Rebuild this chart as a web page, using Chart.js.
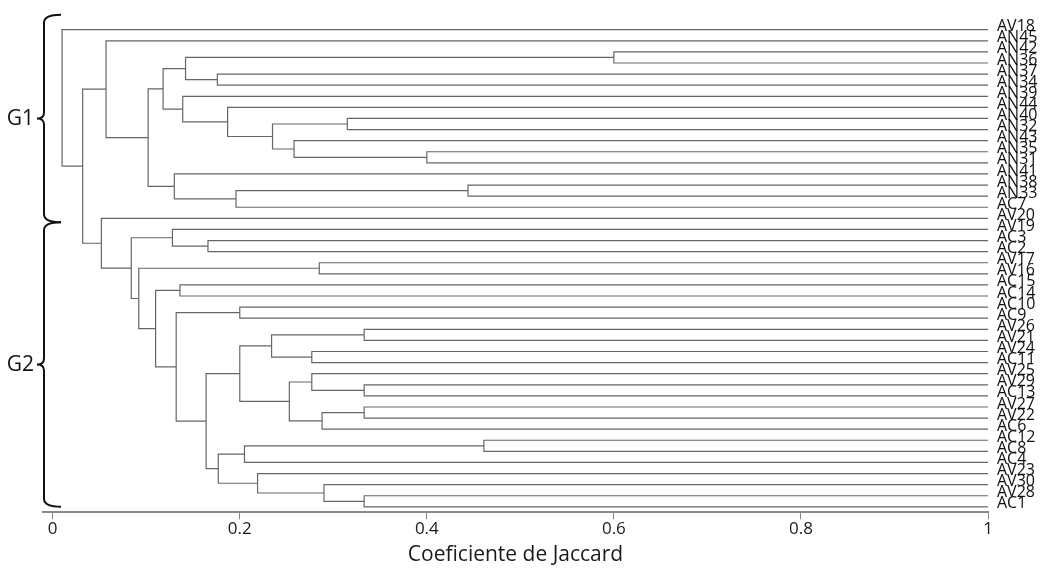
<!DOCTYPE html>
<html>
<head>
<meta charset="utf-8">
<script src="https://cdn.jsdelivr.net/npm/chart.js@4.4.1/dist/chart.umd.min.js"></script>
<style>
html, body { margin: 0; padding: 0; background: #fff; }
#wrap { width: 1043px; height: 569px; position: relative; }
</style>
</head>
<body>
<div id="wrap"><canvas id="dendro"></canvas></div>
<script>
// Feuilles du dendrogramme, de haut en bas
const leaves = ['AV18', 'AN45', 'AN42', 'AN36', 'AN37', 'AN34', 'AN39', 'AN44', 'AN40', 'AN32',
    'AN43', 'AN35', 'AN31', 'AN41', 'AN38', 'AN33', 'AC7', 'AV20', 'AV19', 'AC3',
    'AC2', 'AV17', 'AV16', 'AC15', 'AC14', 'AC10', 'AC9', 'AV26', 'AV21', 'AV24',
    'AC11', 'AV25', 'AV29', 'AC13', 'AV27', 'AV22', 'AC6', 'AC12', 'AC8', 'AC4',
    'AV23', 'AV30', 'AV28', 'AC1'];

// Fusions : enfant A (haut), enfant B (bas) -> nom de feuille ou numéro d'une fusion précédente
const mergeA = ['AN42', 'AN37', 0, 'AN40', 'AN35', 'AN43', 3, 'AN44', 'AN39', 2,
    'AN38', 10, 'AN41', 9, 'AN45',
    'AC3', 'AV19', 'AV17', 'AC15', 'AC10', 'AV26', 'AV24', 20, 'AV29', 'AV25',
    'AV27', 25, 24, 22, 'AC12', 29, 'AV28', 'AV30', 'AV23', 30,
    28, 19, 18, 17, 16, 'AV20', 14, 'AV18'];
const mergeB = ['AN36', 'AN34', 1, 'AN32', 'AN31', 4, 5, 6, 7, 8,
    'AN33', 'AC7', 11, 12, 13,
    'AC2', 15, 'AV16', 'AC14', 'AC9', 'AV21', 'AC11', 21, 'AC13', 23,
    'AV22', 'AC6', 26, 27, 'AC8', 'AC4', 'AC1', 31, 32, 33,
    34, 35, 36, 37, 38, 39, 40, 41];
// Coefficient de Jaccard de chaque fusion
const mergeLevel = [0.600, 0.176, 0.142, 0.315, 0.400, 0.258, 0.235, 0.187, 0.139, 0.118,
    0.444, 0.196, 0.130, 0.102, 0.057,
    0.166, 0.128, 0.285, 0.136, 0.200, 0.333, 0.277, 0.234, 0.333, 0.277,
    0.333, 0.288, 0.253, 0.200, 0.461, 0.205, 0.333, 0.290, 0.219, 0.177,
    0.164, 0.132, 0.110, 0.092, 0.084, 0.052, 0.032, 0.010];

const xTicks = [0, 0.2, 0.4, 0.6, 0.8, 1];
const xTickLabels = ['0', '0.2', '0.4', '0.6', '0.8', '1'];

// Groupes (accolades à gauche)
const groupNames = ['G1', 'G2'];
const groupFirst = ['AV18', 'AV20'];
const groupLast = ['AC7', 'AC1'];

// Construire les segments du dendrogramme (x = coefficient, y = rang de la feuille)
const nodePos = [];
const segments = [];
function childPos(c) {
    if (typeof c === 'string') return { x: 1, y: leaves.indexOf(c) };
    return nodePos[c];
}
for (let i = 0; i < mergeLevel.length; i++) {
    const a = childPos(mergeA[i]);
    const b = childPos(mergeB[i]);
    const h = mergeLevel[i];
    segments.push({ x: a.x, y: a.y }, { x: h, y: a.y }, { x: h, y: b.y }, { x: b.x, y: b.y });
    segments.push({ x: h, y: null }); // coupure
    nodePos.push({ x: h, y: (a.y + b.y) / 2 });
}

// Accolades G1 / G2
const bracesPlugin = {
    id: 'braces',
    afterDraw(chart) {
        const ctx = chart.ctx;
        const yS = chart.scales.y;
        const x = chart.chartArea.left + 1;
        ctx.save();
        ctx.strokeStyle = '#111';
        ctx.lineWidth = 2;
        ctx.fillStyle = '#111';
        ctx.font = '21px "Open Sans"';
        ctx.textAlign = 'right';
        ctx.textBaseline = 'middle';
        groupNames.forEach((name, g) => {
            const i0 = leaves.indexOf(groupFirst[g]);
            const i1 = leaves.indexOf(groupLast[g]);
            const top = g === 0 ? yS.getPixelForValue(i0) - 15 : yS.getPixelForValue(i0) + 4;
            const bottom = g === groupNames.length - 1 ? yS.getPixelForValue(i1) : yS.getPixelForValue(i1 + 1) + 4;
            const mid = (top + bottom) / 2;
            ctx.beginPath();
            ctx.moveTo(x + 17, top);
            ctx.quadraticCurveTo(x, top, x, top + 8);
            ctx.lineTo(x, mid - 6);
            ctx.quadraticCurveTo(x, mid, x - 7, mid);
            ctx.quadraticCurveTo(x, mid, x, mid + 6);
            ctx.lineTo(x, bottom - 8);
            ctx.quadraticCurveTo(x, bottom, x + 17, bottom);
            ctx.stroke();
            ctx.fillText(name, x - 10, mid);
        });
        ctx.restore();
    }
};

const ctx = document.getElementById('dendro').getContext('2d');
const dendroChart = new Chart(ctx, {
    type: 'scatter',
    data: {
        datasets: [{
            data: segments,
            showLine: true,
            spanGaps: false,
            borderColor: '#666',
            borderWidth: 1.2,
            pointRadius: 0,
            pointHoverRadius: 0,
            tension: 0
        }]
    },
    options: {
        responsive: true,
        maintainAspectRatio: false,
        animation: false,
        layout: { padding: { left: 43, top: 14, right: 0, bottom: 1 } },
        plugins: {
            legend: { display: false },
            tooltip: { enabled: false }
        },
        scales: {
            x: {
                type: 'linear',
                position: 'bottom',
                min: -0.0104,
                max: 1,
                afterBuildTicks: (scale) => { scale.ticks = xTicks.map(v => ({ value: v })); },
                ticks: {
                    callback: (v) => xTickLabels[xTicks.indexOf(v)],
                    color: '#1a1a1a',
                    font: { family: 'Open Sans', size: 17 },
                    padding: 0,
                    maxRotation: 0
                },
                grid: {
                    display: true,
                    drawOnChartArea: false,
                    drawTicks: true,
                    tickLength: 7,
                    color: '#8a8a8a',
                    lineWidth: 1
                },
                border: { display: true, color: '#8a8a8a', width: 2 },
                title: {
                    display: true,
                    text: 'Coeficiente de Jaccard',
                    color: '#1a1a1a',
                    font: { family: 'Open Sans', size: 21 },
                    padding: { top: 3, bottom: 0 }
                }
            },
            y: {
                type: 'linear',
                position: 'right',
                reverse: true,
                min: -1,
                max: 43.5,
                afterBuildTicks: (scale) => { scale.ticks = leaves.map((_, i) => ({ value: i })); },
                afterFit: (scale) => { scale.width = 55; },
                ticks: {
                    autoSkip: false,
                    callback: (v) => leaves[v],
                    color: '#111',
                    font: { family: 'Open Sans', size: 16 },
                    padding: 9,
                    labelOffset: -3
                },
                grid: { display: false, drawTicks: false },
                border: { display: false }
            }
        }
    },
    plugins: [bracesPlugin]
});
</script>
</body>
</html>
